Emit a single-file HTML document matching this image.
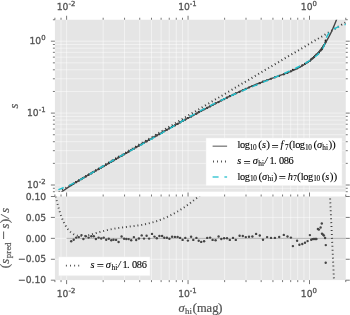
<!DOCTYPE html>
<html><head><meta charset="utf-8"><style>
html,body{margin:0;padding:0;background:#fff;}
svg{display:block;}
</style></head><body>
<svg width="350" height="315" viewBox="0 0 350 315">
<rect x="54.9" y="19.75" width="290.85" height="171.95" fill="#E5E5E5"/>
<rect x="54.9" y="196.5" width="290.85" height="83.6" fill="#E5E5E5"/>
<path d="M66.6 19.75V191.7M66.6 196.5V280.1M188.05 19.75V191.7M188.05 196.5V280.1M309.5 19.75V191.7M309.5 196.5V280.1M61.04 19.75V191.7M61.04 196.5V280.1M103.16 19.75V191.7M103.16 196.5V280.1M124.55 19.75V191.7M124.55 196.5V280.1M139.72 19.75V191.7M139.72 196.5V280.1M151.49 19.75V191.7M151.49 196.5V280.1M161.11 19.75V191.7M161.11 196.5V280.1M169.24 19.75V191.7M169.24 196.5V280.1M176.28 19.75V191.7M176.28 196.5V280.1M182.49 19.75V191.7M182.49 196.5V280.1M224.61 19.75V191.7M224.61 196.5V280.1M246 19.75V191.7M246 196.5V280.1M261.17 19.75V191.7M261.17 196.5V280.1M272.94 19.75V191.7M272.94 196.5V280.1M282.56 19.75V191.7M282.56 196.5V280.1M290.69 19.75V191.7M290.69 196.5V280.1M297.73 19.75V191.7M297.73 196.5V280.1M303.94 19.75V191.7M303.94 196.5V280.1M54.9 185H345.75M54.9 113.1H345.75M54.9 41.2H345.75M54.9 188.29H345.75M54.9 163.36H345.75M54.9 150.69H345.75M54.9 141.71H345.75M54.9 134.74H345.75M54.9 129.05H345.75M54.9 124.24H345.75M54.9 120.07H345.75M54.9 116.39H345.75M54.9 91.46H345.75M54.9 78.79H345.75M54.9 69.81H345.75M54.9 62.84H345.75M54.9 57.15H345.75M54.9 52.34H345.75M54.9 48.17H345.75M54.9 44.49H345.75M54.9 217.42H345.75M54.9 238.35H345.75M54.9 259.27H345.75" stroke="#ffffff" stroke-width="0.55" stroke-opacity="0.9" fill="none"/>
<path d="M66.6 19.75v-4M66.6 196.5v-4M66.6 280.1v4M188.05 19.75v-4M188.05 196.5v-4M188.05 280.1v4M309.5 19.75v-4M309.5 196.5v-4M309.5 280.1v4M54.9 19.75v-2M54.9 196.5v-2M54.9 280.1v2M61.04 19.75v-2M61.04 196.5v-2M61.04 280.1v2M103.16 19.75v-2M103.16 196.5v-2M103.16 280.1v2M124.55 19.75v-2M124.55 196.5v-2M124.55 280.1v2M139.72 19.75v-2M139.72 196.5v-2M139.72 280.1v2M151.49 19.75v-2M151.49 196.5v-2M151.49 280.1v2M161.11 19.75v-2M161.11 196.5v-2M161.11 280.1v2M169.24 19.75v-2M169.24 196.5v-2M169.24 280.1v2M176.28 19.75v-2M176.28 196.5v-2M176.28 280.1v2M182.49 19.75v-2M182.49 196.5v-2M182.49 280.1v2M224.61 19.75v-2M224.61 196.5v-2M224.61 280.1v2M246 19.75v-2M246 196.5v-2M246 280.1v2M261.17 19.75v-2M261.17 196.5v-2M261.17 280.1v2M272.94 19.75v-2M272.94 196.5v-2M272.94 280.1v2M282.56 19.75v-2M282.56 196.5v-2M282.56 280.1v2M290.69 19.75v-2M290.69 196.5v-2M290.69 280.1v2M297.73 19.75v-2M297.73 196.5v-2M297.73 280.1v2M303.94 19.75v-2M303.94 196.5v-2M303.94 280.1v2M345.75 19.75v-2M345.75 196.5v-2M345.75 280.1v2M54.9 185h-4M345.75 185h4M54.9 113.1h-4M345.75 113.1h4M54.9 41.2h-4M345.75 41.2h4M54.9 191.7h-2M345.75 191.7h2M54.9 188.29h-2M345.75 188.29h2M54.9 163.36h-2M345.75 163.36h2M54.9 150.69h-2M345.75 150.69h2M54.9 141.71h-2M345.75 141.71h2M54.9 134.74h-2M345.75 134.74h2M54.9 129.05h-2M345.75 129.05h2M54.9 124.24h-2M345.75 124.24h2M54.9 120.07h-2M345.75 120.07h2M54.9 116.39h-2M345.75 116.39h2M54.9 91.46h-2M345.75 91.46h2M54.9 78.79h-2M345.75 78.79h2M54.9 69.81h-2M345.75 69.81h2M54.9 62.84h-2M345.75 62.84h2M54.9 57.15h-2M345.75 57.15h2M54.9 52.34h-2M345.75 52.34h2M54.9 48.17h-2M345.75 48.17h2M54.9 44.49h-2M345.75 44.49h2M54.9 19.75h-2M345.75 19.75h2M54.9 196.5h-4M345.75 196.5h4M54.9 217.42h-4M345.75 217.42h4M54.9 238.35h-4M345.75 238.35h4M54.9 259.27h-4M345.75 259.27h4M54.9 280.2h-4M345.75 280.2h4" stroke="#555555" stroke-width="0.8" fill="none"/>
<defs><clipPath id="c1"><rect x="54.9" y="19.75" width="290.85" height="171.95"/></clipPath><clipPath id="c2"><rect x="54.9" y="196.5" width="290.85" height="83.6"/></clipPath></defs>
<g clip-path="url(#c1)">
<path d="M48.38 198.36 L352.01 18.61" stroke="#3a3a3a" stroke-width="2.0" stroke-dasharray="1.0 2.86" stroke-dashoffset="3.22" fill="none"/>
<g fill="#1a1a1a"><circle cx="71.2" cy="185.06" r="1.1"/><circle cx="73.7" cy="183.58" r="1.1"/><circle cx="76.2" cy="182.17" r="1.1"/><circle cx="78.8" cy="180.63" r="1.1"/><circle cx="81.5" cy="179.16" r="1.1"/><circle cx="83.4" cy="177.76" r="1.1"/><circle cx="85.8" cy="176.57" r="1.1"/><circle cx="88.6" cy="174.85" r="1.1"/><circle cx="91.3" cy="173.4" r="1.1"/><circle cx="93.8" cy="171.97" r="1.1"/><circle cx="95.9" cy="170.57" r="1.1"/><circle cx="98.6" cy="169.13" r="1.1"/><circle cx="101.2" cy="167.58" r="1.1"/><circle cx="103.7" cy="166.21" r="1.1"/><circle cx="106.2" cy="164.62" r="1.1"/><circle cx="108.8" cy="163.2" r="1.1"/><circle cx="111.3" cy="161.64" r="1.1"/><circle cx="113.5" cy="160.42" r="1.1"/><circle cx="116.1" cy="158.89" r="1.1"/><circle cx="118.6" cy="157.28" r="1.1"/><circle cx="121.6" cy="155.95" r="1.1"/><circle cx="124.1" cy="154.32" r="1.1"/><circle cx="126.3" cy="153.02" r="1.1"/><circle cx="128.6" cy="151.67" r="1.1"/><circle cx="131.2" cy="150.07" r="1.1"/><circle cx="133.9" cy="148.73" r="1.1"/><circle cx="136.2" cy="147.18" r="1.1"/><circle cx="138.9" cy="145.72" r="1.1"/><circle cx="141.7" cy="144.32" r="1.1"/><circle cx="144" cy="142.76" r="1.1"/><circle cx="146.6" cy="141.46" r="1.1"/><circle cx="149.1" cy="139.82" r="1.1"/><circle cx="152" cy="138.5" r="1.1"/><circle cx="154.5" cy="136.87" r="1.1"/><circle cx="156.8" cy="135.44" r="1.1"/><circle cx="159.4" cy="134.14" r="1.1"/><circle cx="162.1" cy="132.61" r="1.1"/><circle cx="164.3" cy="131.25" r="1.1"/><circle cx="166.9" cy="129.79" r="1.1"/><circle cx="169.4" cy="128.31" r="1.1"/><circle cx="172.1" cy="126.97" r="1.1"/><circle cx="174.9" cy="125.4" r="1.1"/><circle cx="177.6" cy="123.91" r="1.1"/><circle cx="180.1" cy="122.47" r="1.1"/><circle cx="182.6" cy="120.95" r="1.1"/><circle cx="185.3" cy="119.62" r="1.1"/><circle cx="187.9" cy="118.01" r="1.1"/><circle cx="191.1" cy="116.57" r="1.1"/><circle cx="193.3" cy="115.14" r="1.1"/><circle cx="196.4" cy="113.63" r="1.1"/><circle cx="198.7" cy="112.18" r="1.1"/><circle cx="201.2" cy="110.76" r="1.1"/><circle cx="204.1" cy="109.27" r="1.1"/><circle cx="207.2" cy="107.88" r="1.1"/><circle cx="210.1" cy="106.38" r="1.1"/><circle cx="212.6" cy="104.9" r="1.1"/><circle cx="215.6" cy="103.32" r="1.1"/><circle cx="218.6" cy="102.06" r="1.1"/><circle cx="221.3" cy="100.49" r="1.1"/><circle cx="224.1" cy="99.14" r="1.1"/><circle cx="227" cy="97.69" r="1.1"/><circle cx="229.8" cy="96.18" r="1.1"/><circle cx="233" cy="94.77" r="1.1"/><circle cx="235.8" cy="93.28" r="1.1"/><circle cx="239.6" cy="91.81" r="1.1"/><circle cx="242.8" cy="90.32" r="1.1"/><circle cx="245.8" cy="88.89" r="1.1"/><circle cx="249" cy="87.52" r="1.1"/><circle cx="252.4" cy="86.09" r="1.1"/><circle cx="256.1" cy="84.75" r="1.1"/><circle cx="259.8" cy="83.14" r="1.1"/><circle cx="263" cy="81.59" r="1.1"/><circle cx="267.1" cy="80.23" r="1.1"/><circle cx="271" cy="78.73" r="1.1"/><circle cx="274.9" cy="77.32" r="1.1"/><circle cx="279.2" cy="75.84" r="1.1"/><circle cx="283.8" cy="74.31" r="1.1"/><circle cx="287.5" cy="72.79" r="1.1"/><circle cx="290.9" cy="71.35" r="1.1"/><circle cx="292.9" cy="69.86" r="1.1"/><circle cx="297.1" cy="68.34" r="1.1"/><circle cx="299.4" cy="66.89" r="1.1"/><circle cx="302.3" cy="65.34" r="1.1"/><circle cx="305" cy="63.79" r="1.1"/><circle cx="307.6" cy="62.15" r="1.1"/><circle cx="309.9" cy="60.87" r="1.1"/><circle cx="311.2" cy="59.47" r="1.1"/><circle cx="312.6" cy="58.31" r="1.1"/><circle cx="313.9" cy="57.13" r="1.1"/><circle cx="315.2" cy="55.86" r="1.1"/><circle cx="316.4" cy="54.63" r="1.1"/><circle cx="317.9" cy="53.72" r="1.1"/><circle cx="318.9" cy="52.52" r="1.1"/><circle cx="320.6" cy="50.58" r="1.1"/><circle cx="321.8" cy="49.28" r="1.1"/><circle cx="322" cy="48.26" r="1.1"/><circle cx="323.2" cy="46.5" r="1.1"/><circle cx="323.9" cy="45.4" r="1.1"/><circle cx="325.1" cy="43.37" r="1.1"/><circle cx="325.8" cy="41.71" r="1.1"/><circle cx="325.7" cy="40.51" r="1.1"/></g>
<path d="M58.00 195.00 L61.00 192.55 L64.00 190.26 L67.00 188.11 L70.00 186.07 L73.00 184.12 L76.00 182.24 L79.00 180.41 L82.00 178.63 L85.00 176.87 L88.00 175.14 L91.00 173.41 L94.00 171.70 L97.00 169.99 L100.00 168.28 L103.00 166.56 L106.00 164.84 L109.00 163.11 L112.00 161.38 L115.00 159.65 L118.00 157.91 L121.00 156.16 L124.00 154.41 L127.00 152.66 L130.00 150.91 L133.00 149.16 L136.00 147.42 L139.00 145.67 L142.00 143.93 L145.00 142.20 L148.00 140.47 L151.00 138.74 L154.00 137.03 L157.00 135.32 L160.00 133.62 L163.00 131.93 L166.00 130.25 L169.00 128.57 L172.00 126.90 L175.00 125.24 L178.00 123.59 L181.00 121.94 L184.00 120.30 L187.00 118.67 L190.00 117.04 L193.00 115.42 L196.00 113.81 L199.00 112.20 L202.00 110.60 L205.00 109.01 L208.00 107.43 L211.00 105.85 L214.00 104.29 L217.00 102.74 L220.00 101.20 L223.00 99.68 L226.00 98.18 L229.00 96.69 L232.00 95.22 L235.00 93.78 L238.00 92.36 L241.00 90.97 L244.00 89.61 L247.00 88.27 L250.00 86.97 L253.00 85.70 L256.00 84.46 L259.00 83.25 L262.00 82.07 L265.00 80.92 L268.00 79.80 L271.00 78.70 L274.00 77.61 L277.00 76.53 L280.00 75.45 L283.00 74.35 L286.00 73.23 L289.00 72.06 L292.00 70.83 L295.00 69.51 L298.00 68.08 L300.00 67.05 L300.80 66.62 L301.60 66.17 L302.40 65.71 L303.20 65.24 L304.00 64.75 L304.80 64.25 L305.60 63.73 L306.40 63.20 L307.20 62.64 L308.00 62.07 L308.80 61.48 L309.60 60.86 L310.40 60.23 L311.20 59.57 L312.00 58.89 L312.80 58.19 L313.60 57.46 L314.40 56.70 L315.20 55.91 L316.00 55.10 L316.80 54.25 L317.60 53.37 L318.40 52.46 L319.20 51.52 L320.00 50.54 L320.80 49.52 L321.60 48.46 L322.40 47.36 L323.20 46.23 L324.00 45.05 L324.80 43.82 L325.60 42.55 L326.40 41.23 L327.20 39.86 L328.00 38.43 L328.80 36.96 L329.60 35.43 L330.40 33.84 L331.20 32.19 L332.00 30.48 L332.80 28.71 L333.60 26.88 L334.40 24.97 L335.20 23.00 L336.00 20.95 L336.80 18.83 L337.60 16.64 L338.40 14.36 L339.20 12.00" stroke="#454545" stroke-width="1.4" fill="none"/>
<path d="M58.34 189.60 L60.55 188.81 L62.66 188.03 L64.66 187.24 L66.56 186.46 L68.39 185.67 L70.14 184.88 L71.82 184.10 L73.44 183.31 L75.01 182.53 L76.53 181.74 L78.00 180.95 L79.44 180.17 L80.85 179.38 L82.24 178.60 L83.60 177.81 L84.94 177.02 L86.26 176.24 L87.58 175.45 L88.88 174.67 L90.18 173.88 L91.47 173.09 L92.76 172.31 L94.06 171.52 L95.35 170.74 L96.64 169.95 L97.94 169.16 L99.25 168.38 L100.55 167.59 L101.87 166.81 L103.19 166.02 L104.52 165.23 L105.86 164.45 L107.20 163.66 L108.56 162.88 L109.92 162.09 L111.28 161.31 L112.66 160.52 L114.04 159.73 L115.43 158.95 L116.82 158.16 L118.22 157.38 L119.63 156.59 L121.04 155.80 L122.46 155.02 L123.88 154.23 L125.30 153.45 L126.72 152.66 L128.15 151.87 L129.58 151.09 L131.01 150.30 L132.44 149.52 L133.87 148.73 L135.30 147.94 L136.73 147.16 L138.15 146.37 L139.58 145.59 L141.00 144.80 L142.42 144.01 L143.84 143.23 L145.25 142.44 L146.66 141.66 L148.06 140.87 L149.46 140.08 L150.86 139.30 L152.25 138.51 L153.64 137.73 L155.02 136.94 L156.40 136.15 L157.77 135.37 L159.14 134.58 L160.50 133.80 L161.86 133.01 L163.22 132.22 L164.57 131.44 L165.93 130.65 L167.27 129.87 L168.62 129.08 L169.96 128.29 L171.30 127.51 L172.64 126.72 L173.98 125.94 L175.32 125.15 L176.66 124.36 L178.00 123.58 L179.35 122.79 L180.69 122.01 L182.04 121.22 L183.39 120.43 L184.75 119.65 L186.11 118.86 L187.47 118.08 L188.85 117.29 L190.23 116.50 L191.61 115.72 L193.01 114.93 L194.42 114.15 L195.83 113.36 L197.26 112.58 L198.69 111.79 L200.14 111.00 L201.60 110.22 L203.07 109.43 L204.56 108.65 L206.06 107.86 L207.57 107.07 L209.10 106.29 L210.65 105.50 L212.21 104.72 L213.78 103.93 L215.38 103.14 L216.98 102.36 L218.61 101.57 L220.25 100.79 L221.91 100.00 L223.58 99.21 L225.27 98.43 L226.98 97.64 L228.71 96.86 L230.45 96.07 L232.20 95.28 L233.98 94.50 L235.76 93.71 L237.56 92.93 L239.38 92.14 L241.21 91.35 L243.05 90.57 L244.91 89.78 L246.77 89.00 L248.65 88.21 L250.53 87.42 L252.43 86.64 L254.33 85.85 L256.23 85.07 L258.14 84.28 L260.06 83.49 L261.97 82.71 L263.89 81.92 L265.81 81.14 L267.72 80.35 L269.63 79.56 L271.54 78.78 L273.43 77.99 L275.32 77.21 L277.20 76.42 L279.06 75.63 L280.91 74.85 L282.74 74.06 L284.56 73.28 L286.35 72.49 L288.12 71.70 L289.87 70.92 L291.59 70.13 L293.29 69.35 L294.95 68.56 L296.58 67.77 L298.18 66.99 L299.74 66.20 L301.27 65.42 L302.75 64.63 L304.20 63.85 L305.60 63.06 L306.96 62.27 L308.27 61.49 L309.53 60.70 L310.75 59.92 L311.92 59.13 L313.03 58.34 L314.10 57.56 L315.12 56.77 L316.08 55.99 L316.99 55.20 L317.84 54.41 L318.65 53.63 L319.40 52.84 L320.10 52.06 L320.75 51.27 L321.35 50.48 L321.90 49.70 L322.40 48.91 L322.86 48.13 L323.27 47.34 L323.65 46.55 L323.99 45.77 L324.30 44.98 L324.58 44.20 L324.83 43.41 L325.07 42.62 L325.29 41.84 L325.50 41.05 L325.71 40.27 L325.92 39.48 L326.15 38.69 L326.40 37.91 L326.68 37.12 L327.00 36.34 L327.36 35.55 L327.79 34.76 L328.29 33.98 L328.88 33.19 L329.56 32.41 L330.35 31.62 L331.27 30.83 L332.34 30.05 L333.56 29.26 L334.96 28.48 L336.55 27.69 L338.36 26.90 L340.41 26.12 L342.71 25.33 L345.30 24.55 L348.19 23.76 L351.41 22.97" stroke="#22BFCC" stroke-width="1.45" stroke-dasharray="5.785 5.785" fill="none"/>
</g>
<g clip-path="url(#c2)">
<path d="M66.6 238.35H350.75" stroke="#aaaaaa" stroke-width="0.9" fill="none"/>
<g fill="#444444"><circle cx="71.2" cy="241.3" r="1.2"/><circle cx="73.7" cy="239.7" r="1.2"/><circle cx="76.2" cy="237.6" r="1.2"/><circle cx="78.8" cy="237.1" r="1.2"/><circle cx="81.5" cy="235.1" r="1.2"/><circle cx="83.4" cy="239" r="1.2"/><circle cx="85.8" cy="236.2" r="1.2"/><circle cx="88.6" cy="237.6" r="1.2"/><circle cx="91.3" cy="236.2" r="1.2"/><circle cx="93.8" cy="236.2" r="1.2"/><circle cx="95.9" cy="239" r="1.2"/><circle cx="98.6" cy="237.6" r="1.2"/><circle cx="101.2" cy="238.5" r="1.2"/><circle cx="103.7" cy="237.6" r="1.2"/><circle cx="106.2" cy="239.7" r="1.2"/><circle cx="108.8" cy="238.8" r="1.2"/><circle cx="111.3" cy="240.3" r="1.2"/><circle cx="113.5" cy="239.7" r="1.2"/><circle cx="116.1" cy="239.9" r="1.2"/><circle cx="118.6" cy="242" r="1.2"/><circle cx="121.6" cy="236.5" r="1.2"/><circle cx="124.1" cy="238.8" r="1.2"/><circle cx="126.3" cy="239" r="1.2"/><circle cx="128.6" cy="239.1" r="1.2"/><circle cx="131.2" cy="240.2" r="1.2"/><circle cx="133.9" cy="237.1" r="1.2"/><circle cx="136.2" cy="240" r="1.2"/><circle cx="138.9" cy="238.5" r="1.2"/><circle cx="141.7" cy="235.4" r="1.2"/><circle cx="144" cy="238.6" r="1.2"/><circle cx="146.6" cy="235.8" r="1.2"/><circle cx="149.1" cy="238.6" r="1.2"/><circle cx="152" cy="233.9" r="1.2"/><circle cx="154.5" cy="236.6" r="1.2"/><circle cx="156.8" cy="238.3" r="1.2"/><circle cx="159.4" cy="236" r="1.2"/><circle cx="162.1" cy="236" r="1.2"/><circle cx="164.3" cy="237.7" r="1.2"/><circle cx="166.9" cy="237.7" r="1.2"/><circle cx="169.4" cy="238.8" r="1.2"/><circle cx="172.1" cy="236.7" r="1.2"/><circle cx="174.9" cy="236.9" r="1.2"/><circle cx="177.6" cy="236.9" r="1.2"/><circle cx="180.1" cy="237.9" r="1.2"/><circle cx="182.6" cy="239.9" r="1.2"/><circle cx="185.3" cy="237.9" r="1.2"/><circle cx="187.9" cy="240.6" r="1.2"/><circle cx="191.1" cy="236.7" r="1.2"/><circle cx="193.3" cy="239.9" r="1.2"/><circle cx="196.4" cy="237.9" r="1.2"/><circle cx="198.7" cy="240.8" r="1.2"/><circle cx="201.2" cy="241.9" r="1.2"/><circle cx="204.1" cy="241.3" r="1.2"/><circle cx="207.2" cy="237.9" r="1.2"/><circle cx="210.1" cy="237.6" r="1.2"/><circle cx="212.6" cy="239.9" r="1.2"/><circle cx="215.6" cy="240.3" r="1.2"/><circle cx="218.6" cy="236.5" r="1.2"/><circle cx="221.3" cy="239" r="1.2"/><circle cx="224.1" cy="238.2" r="1.2"/><circle cx="227" cy="238.2" r="1.2"/><circle cx="229.8" cy="239.9" r="1.2"/><circle cx="233" cy="237.9" r="1.2"/><circle cx="235.8" cy="239.9" r="1.2"/><circle cx="239.6" cy="235.8" r="1.2"/><circle cx="242.8" cy="236" r="1.2"/><circle cx="245.8" cy="237.1" r="1.2"/><circle cx="249" cy="236.7" r="1.2"/><circle cx="252.4" cy="236.5" r="1.2"/><circle cx="256.1" cy="233.9" r="1.2"/><circle cx="259.8" cy="235.5" r="1.2"/><circle cx="263" cy="239.7" r="1.2"/><circle cx="267.1" cy="237.1" r="1.2"/><circle cx="271" cy="237.9" r="1.2"/><circle cx="274.9" cy="237.9" r="1.2"/><circle cx="279.2" cy="237" r="1.2"/><circle cx="283.8" cy="234.9" r="1.2"/><circle cx="287.5" cy="236.5" r="1.2"/><circle cx="290.9" cy="237.6" r="1.2"/><circle cx="292.9" cy="246.1" r="1.2"/><circle cx="297.1" cy="240.8" r="1.2"/><circle cx="299.4" cy="244.7" r="1.2"/><circle cx="302.3" cy="244" r="1.2"/><circle cx="305" cy="242.8" r="1.2"/><circle cx="307.6" cy="241.1" r="1.2"/><circle cx="309.9" cy="235.1" r="1.2"/><circle cx="311.2" cy="239.7" r="1.2"/><circle cx="312.6" cy="239.1" r="1.2"/><circle cx="313.9" cy="239" r="1.2"/><circle cx="315.2" cy="239" r="1.2"/><circle cx="316.4" cy="239" r="1.2"/><circle cx="317.9" cy="229" r="1.2"/><circle cx="318.9" cy="229.6" r="1.2"/><circle cx="320.6" cy="227.5" r="1.2"/><circle cx="321.8" cy="223.5" r="1.2"/><circle cx="322" cy="233.7" r="1.2"/><circle cx="323.2" cy="234.7" r="1.2"/><circle cx="323.9" cy="235.6" r="1.2"/><circle cx="325.1" cy="238" r="1.2"/><circle cx="325.8" cy="245.1" r="1.2"/><circle cx="325.7" cy="262.7" r="1.2"/></g>
<path d="M52.90 181.98 L53.40 184.84 L53.90 187.57 L54.40 190.19 L54.90 192.69 L55.40 195.08 L55.90 197.37 L56.40 199.55 L56.90 201.64 L57.40 203.63 L57.90 205.54 L58.40 207.36 L58.90 209.09 L59.40 210.74 L59.90 212.32 L60.40 213.82 L60.90 215.25 L61.40 216.61 L61.90 217.91 L62.40 219.14 L62.90 220.31 L63.40 221.42 L63.90 222.47 L64.40 223.47 L64.90 224.41 L65.40 225.31 L65.90 226.15 L66.40 226.95 L66.90 227.70 L67.40 228.41 L67.90 229.08 L68.40 229.71 L68.90 230.30 L69.40 230.85 L69.90 231.36 L70.40 231.85 L70.90 232.29 L71.40 232.71 L71.90 233.10 L72.40 233.45 L72.90 233.78 L73.40 234.09 L73.90 234.36 L74.40 234.62 L74.90 234.84 L75.40 235.05 L75.90 235.24 L76.40 235.40 L76.90 235.54 L77.40 235.67 L77.90 235.78 L78.40 235.87 L78.90 235.94 L79.40 236.00 L79.90 236.05 L80.40 236.08 L80.90 236.10 L81.40 236.10 L81.90 236.09 L82.40 236.07 L82.90 236.05 L83.40 236.01 L83.90 235.96 L84.40 235.90 L84.90 235.83 L85.40 235.76 L85.90 235.68 L86.40 235.59 L86.90 235.50 L87.40 235.40 L87.90 235.29 L88.40 235.18 L88.90 235.07 L89.40 234.95 L89.90 234.82 L90.40 234.70 L90.90 234.57 L91.40 234.44 L91.90 234.30 L92.40 234.16 L92.90 234.02 L93.40 233.88 L93.90 233.74 L94.40 233.60 L94.90 233.45 L95.40 233.31 L95.90 233.16 L96.40 233.01 L96.90 232.87 L97.40 232.72 L97.90 232.58 L98.40 232.43 L98.90 232.29 L99.40 232.15 L99.90 232.00 L100.40 231.86 L100.90 231.72 L101.40 231.58 L101.90 231.45 L102.40 231.31 L102.90 231.18 L103.40 231.04 L103.90 230.91 L104.40 230.78 L104.90 230.66 L105.40 230.53 L105.90 230.41 L106.40 230.29 L106.90 230.17 L107.40 230.05 L107.90 229.93 L108.40 229.82 L108.90 229.71 L109.40 229.60 L109.90 229.49 L110.00 229.47 L112.00 229.07 L114.00 228.70 L116.00 228.36 L118.00 228.04 L120.00 227.76 L122.00 227.49 L124.00 227.23 L126.00 226.99 L128.00 226.75 L130.00 226.52 L132.00 226.27 L134.00 226.02 L136.00 225.76 L138.00 225.47 L140.00 225.16 L142.00 224.82 L144.00 224.45 L146.00 224.05 L148.00 223.61 L150.00 223.12 L152.00 222.59 L154.00 222.02 L156.00 221.40 L158.00 220.73 L160.00 220.00 L162.00 219.23 L164.00 218.41 L166.00 217.54 L168.00 216.61 L170.00 215.64 L172.00 214.61 L174.00 213.54 L176.00 212.41 L178.00 211.24 L180.00 210.02 L182.00 208.75 L184.00 207.43 L186.00 206.07 L188.00 204.66 L190.00 203.21 L192.00 201.70 L194.00 200.15 L196.00 198.55 L198.00 196.90 L200.00 195.19 L202.00 193.43 L204.00 191.61" stroke="#444444" stroke-width="1.9" stroke-dasharray="1.0 2.86" stroke-dashoffset="0.75" fill="none"/>
<path d="M327.75 151.12 L328.00 155.98 L328.25 160.89 L328.50 165.83 L328.75 170.80 L329.00 175.80 L329.25 180.84 L329.50 185.91 L329.75 191.00 L330.00 196.13 L330.25 201.28 L330.50 206.45 L330.75 211.65 L331.00 216.87 L331.25 222.12 L331.50 227.38 L331.75 232.66 L332.00 237.96 L332.25 243.28 L332.50 248.60 L332.75 253.94 L333.00 259.30 L333.25 264.66 L333.50 270.03 L333.75 275.41 L334.00 280.79 L334.25 286.17 L334.50 291.56 L334.75 296.95 L335.00 302.34 L335.25 307.72 L335.50 313.10 L335.75 318.47 L336.00 323.84 L336.25 329.20" stroke="#444444" stroke-width="1.9" stroke-dasharray="1.0 2.95" fill="none"/>
</g>
<text x="66" y="9.9" font-family="'DejaVu Sans', sans-serif" fill="#555555" stroke="#555555" stroke-width="0.3" font-size="9.2" text-anchor="middle">10<tspan font-size="6.90" dy="-4.1">-2</tspan></text>
<text x="66" y="297" font-family="'DejaVu Sans', sans-serif" fill="#555555" stroke="#555555" stroke-width="0.3" font-size="9.2" text-anchor="middle">10<tspan font-size="6.90" dy="-4.1">-2</tspan></text>
<text x="187.45" y="9.9" font-family="'DejaVu Sans', sans-serif" fill="#555555" stroke="#555555" stroke-width="0.3" font-size="9.2" text-anchor="middle">10<tspan font-size="6.90" dy="-4.1">-1</tspan></text>
<text x="187.45" y="297" font-family="'DejaVu Sans', sans-serif" fill="#555555" stroke="#555555" stroke-width="0.3" font-size="9.2" text-anchor="middle">10<tspan font-size="6.90" dy="-4.1">-1</tspan></text>
<text x="308.9" y="9.9" font-family="'DejaVu Sans', sans-serif" fill="#555555" stroke="#555555" stroke-width="0.3" font-size="9.2" text-anchor="middle">10<tspan font-size="6.90" dy="-4.1">0</tspan></text>
<text x="308.9" y="297" font-family="'DejaVu Sans', sans-serif" fill="#555555" stroke="#555555" stroke-width="0.3" font-size="9.2" text-anchor="middle">10<tspan font-size="6.90" dy="-4.1">0</tspan></text>
<text x="45.6" y="44.3" font-family="'DejaVu Sans', sans-serif" fill="#555555" stroke="#555555" stroke-width="0.3" font-size="9.2" text-anchor="end">10<tspan font-size="6.90" dy="-4.1">0</tspan></text>
<text x="45.6" y="116.2" font-family="'DejaVu Sans', sans-serif" fill="#555555" stroke="#555555" stroke-width="0.3" font-size="9.2" text-anchor="end">10<tspan font-size="6.90" dy="-4.1">-1</tspan></text>
<text x="45.6" y="188.1" font-family="'DejaVu Sans', sans-serif" fill="#555555" stroke="#555555" stroke-width="0.3" font-size="9.2" text-anchor="end">10<tspan font-size="6.90" dy="-4.1">-2</tspan></text>
<text x="46.2" y="199.7" font-family="'DejaVu Sans', sans-serif" fill="#555555" stroke="#555555" stroke-width="0.3" font-size="9.2" text-anchor="end">0.10</text>
<text x="46.2" y="220.62" font-family="'DejaVu Sans', sans-serif" fill="#555555" stroke="#555555" stroke-width="0.3" font-size="9.2" text-anchor="end">0.05</text>
<text x="46.2" y="241.55" font-family="'DejaVu Sans', sans-serif" fill="#555555" stroke="#555555" stroke-width="0.3" font-size="9.2" text-anchor="end">0.00</text>
<text x="46.2" y="262.47" font-family="'DejaVu Sans', sans-serif" fill="#555555" stroke="#555555" stroke-width="0.3" font-size="9.2" text-anchor="end">−0.05</text>
<text x="46.2" y="283.4" font-family="'DejaVu Sans', sans-serif" fill="#555555" stroke="#555555" stroke-width="0.3" font-size="9.2" text-anchor="end">−0.10</text>
<rect x="206" y="138" width="136" height="47.7" fill="#ffffff" stroke="#EEEEEE" stroke-width="0.5"/>
<path d="M212.6 146.2H227.1" stroke="#7a7a7a" stroke-width="1.3"/>
<path d="M213 161.5H227.1" stroke="#555" stroke-width="1.9" stroke-dasharray="1.0 3.0"/>
<path d="M212.6 177H227.1" stroke="#22BFCC" stroke-width="1.4" stroke-opacity="0.85" stroke-dasharray="6 5.8"/>
<text font-family="'Liberation Serif', 'DejaVu Serif', serif" fill="#000" stroke="#000" stroke-width="0.1"><tspan x="237.50" y="148.30" font-size="10.38">l</tspan><tspan x="240.09" y="148.30" font-size="10.38">o</tspan><tspan x="244.75" y="148.30" font-size="10.38">g</tspan><tspan x="249.84" y="149.95" font-size="7.27">1</tspan><tspan x="253.11" y="149.95" font-size="7.27">0</tspan><tspan x="258.34" y="148.30" font-size="11.21">(</tspan><tspan x="261.97" y="148.30" font-size="10.38" font-style="italic">s</tspan><tspan x="266.34" y="148.30" font-size="11.21">)</tspan><tspan x="271.60" y="150.50" font-size="12.66">=</tspan><tspan x="280.49" y="148.30" font-size="10.38" font-style="italic">f</tspan><tspan x="285.06" y="149.95" font-size="7.27">7</tspan><tspan x="288.92" y="148.30" font-size="11.21">(</tspan><tspan x="292.55" y="148.30" font-size="10.38">l</tspan><tspan x="295.13" y="148.30" font-size="10.38">o</tspan><tspan x="299.80" y="148.30" font-size="10.38">g</tspan><tspan x="304.89" y="149.95" font-size="7.27">1</tspan><tspan x="308.16" y="149.95" font-size="7.27">0</tspan><tspan x="313.39" y="148.30" font-size="11.21">(</tspan><tspan x="317.02" y="148.30" font-size="10.38" font-style="italic">σ</tspan><tspan x="322.35" y="149.95" font-size="7.27">h</tspan><tspan x="325.98" y="149.95" font-size="7.27">i</tspan><tspan x="328.38" y="148.30" font-size="11.21">)</tspan><tspan x="332.01" y="148.30" font-size="11.21">)</tspan></text>
<text font-family="'Liberation Serif', 'DejaVu Serif', serif" fill="#000" stroke="#000" stroke-width="0.1"><tspan x="237.30" y="164.30" font-size="10.38" font-style="italic">s</tspan><tspan x="243.53" y="166.50" font-size="12.66">=</tspan><tspan x="252.76" y="164.30" font-size="10.38" font-style="italic">σ</tspan><tspan x="258.29" y="165.95" font-size="7.27">h</tspan><tspan x="262.05" y="165.95" font-size="7.27">i</tspan><tspan x="264.55" y="164.30" font-size="10.38" font-style="italic">/</tspan><tspan x="269.39" y="164.30" font-size="10.38">1</tspan><tspan x="274.24" y="164.30" font-size="10.38" font-style="italic">.</tspan><tspan x="278.92" y="164.30" font-size="10.38">0</tspan><tspan x="283.76" y="164.30" font-size="10.38">8</tspan><tspan x="288.61" y="164.30" font-size="10.38">6</tspan></text>
<text font-family="'Liberation Serif', 'DejaVu Serif', serif" fill="#000" stroke="#000" stroke-width="0.1"><tspan x="237.50" y="179.80" font-size="10.38">l</tspan><tspan x="240.10" y="179.80" font-size="10.38">o</tspan><tspan x="244.80" y="179.80" font-size="10.38">g</tspan><tspan x="249.92" y="181.45" font-size="7.27">1</tspan><tspan x="253.21" y="181.45" font-size="7.27">0</tspan><tspan x="258.47" y="179.80" font-size="11.21">(</tspan><tspan x="262.12" y="179.80" font-size="10.38" font-style="italic">σ</tspan><tspan x="267.48" y="181.45" font-size="7.27">h</tspan><tspan x="271.13" y="181.45" font-size="7.27">i</tspan><tspan x="273.56" y="179.80" font-size="11.21">)</tspan><tspan x="278.85" y="182.00" font-size="12.66">=</tspan><tspan x="287.80" y="179.80" font-size="10.38" font-style="italic">h</tspan><tspan x="293.22" y="181.45" font-size="7.27">7</tspan><tspan x="297.11" y="179.80" font-size="11.21">(</tspan><tspan x="300.75" y="179.80" font-size="10.38">l</tspan><tspan x="303.36" y="179.80" font-size="10.38">o</tspan><tspan x="308.05" y="179.80" font-size="10.38">g</tspan><tspan x="313.17" y="181.45" font-size="7.27">1</tspan><tspan x="316.46" y="181.45" font-size="7.27">0</tspan><tspan x="321.73" y="179.80" font-size="11.21">(</tspan><tspan x="325.37" y="179.80" font-size="10.38" font-style="italic">s</tspan><tspan x="329.77" y="179.80" font-size="11.21">)</tspan><tspan x="333.42" y="179.80" font-size="11.21">)</tspan></text>
<rect x="58.8" y="256.9" width="91.2" height="18.9" fill="#ffffff" stroke="#EEEEEE" stroke-width="0.5"/>
<path d="M65.9 265.6H79.5" stroke="#555" stroke-width="1.9" stroke-dasharray="1.0 3.1"/>
<text font-family="'Liberation Serif', 'DejaVu Serif', serif" fill="#000" stroke="#000" stroke-width="0.1"><tspan x="90.40" y="268.10" font-size="10.38" font-style="italic">s</tspan><tspan x="96.63" y="270.30" font-size="12.66">=</tspan><tspan x="105.86" y="268.10" font-size="10.38" font-style="italic">σ</tspan><tspan x="111.39" y="269.75" font-size="7.27">h</tspan><tspan x="115.15" y="269.75" font-size="7.27">i</tspan><tspan x="117.65" y="268.10" font-size="10.38" font-style="italic">/</tspan><tspan x="122.49" y="268.10" font-size="10.38">1</tspan><tspan x="127.34" y="268.10" font-size="10.38" font-style="italic">.</tspan><tspan x="132.02" y="268.10" font-size="10.38">0</tspan><tspan x="136.86" y="268.10" font-size="10.38">8</tspan><tspan x="141.71" y="268.10" font-size="10.38">6</tspan></text>
<text font-family="'Liberation Serif', 'DejaVu Serif', serif" fill="#555555" stroke="#555555" stroke-width="0.22"><tspan x="178.50" y="311.90" font-size="12.47" font-style="italic">σ</tspan><tspan x="185.04" y="313.88" font-size="8.73">h</tspan><tspan x="189.50" y="313.88" font-size="8.73">i</tspan><tspan x="192.45" y="311.90" font-size="13.46">(</tspan><tspan x="196.91" y="311.90" font-size="12.47">m</tspan><tspan x="206.46" y="311.90" font-size="12.47">a</tspan><tspan x="212.19" y="311.90" font-size="12.47">g</tspan><tspan x="217.92" y="311.90" font-size="13.46">)</tspan></text>
<g transform="translate(18.4,108.4) rotate(-90)"><text font-family="'Liberation Serif', 'DejaVu Serif', serif" fill="#555555" stroke="#555555" stroke-width="0.22"><tspan x="0.00" y="0.00" font-size="12.47" font-style="italic">s</tspan></text></g>
<g transform="translate(9.0,268.25) rotate(-90)"><text font-family="'Liberation Serif', 'DejaVu Serif', serif" fill="#555555" stroke="#555555" stroke-width="0.22"><tspan x="0.00" y="0.00" font-size="13.46">(</tspan><tspan x="4.52" y="0.00" font-size="12.47" font-style="italic">s</tspan><tspan x="9.96" y="1.98" font-size="8.73">p</tspan><tspan x="14.49" y="1.98" font-size="8.73">r</tspan><tspan x="17.67" y="1.98" font-size="8.73">e</tspan><tspan x="21.29" y="1.98" font-size="8.73">d</tspan><tspan x="28.60" y="0.30" font-size="15.58">−</tspan><tspan x="39.69" y="0.00" font-size="12.47" font-style="italic">s</tspan><tspan x="45.13" y="0.00" font-size="13.46">)</tspan><tspan x="49.65" y="0.00" font-size="12.47" font-style="italic">/</tspan><tspan x="55.47" y="0.00" font-size="12.47" font-style="italic">s</tspan></text></g>
</svg></body></html>
